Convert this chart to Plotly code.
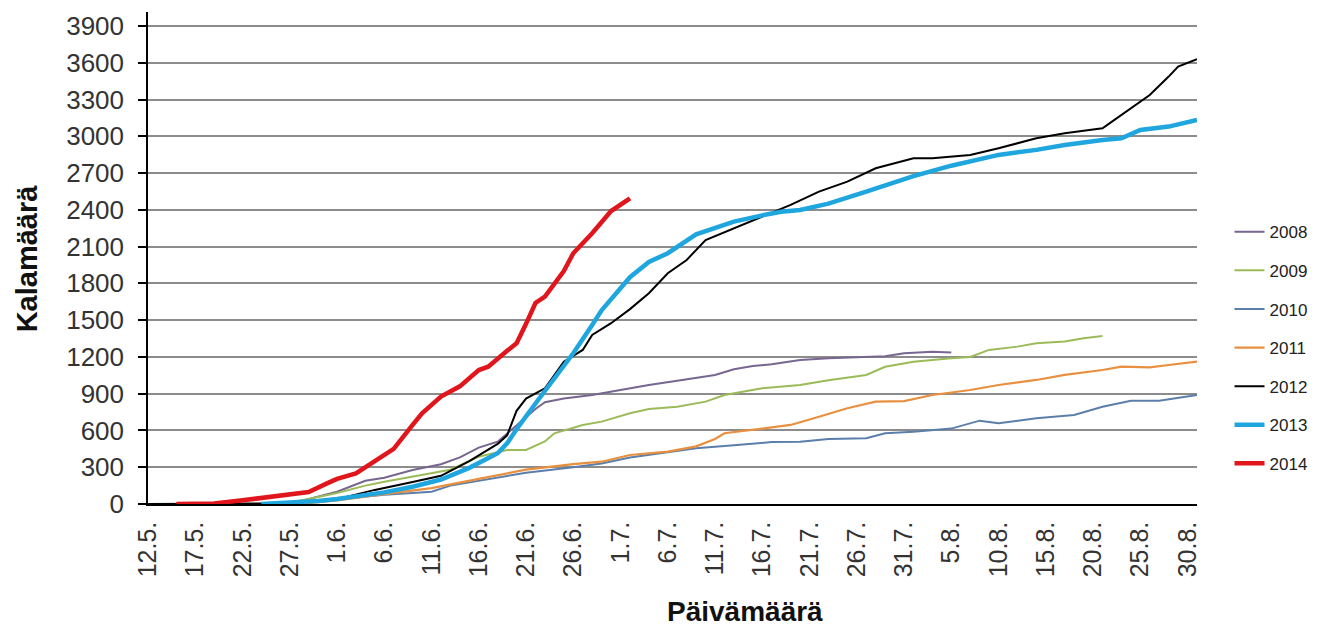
import plotly.graph_objects as go

# x = days since 12.5. (day 0)
tick_days = list(range(0, 111, 5))
tick_text = ["12.5.", "17.5.", "22.5.", "27.5.", "1.6.", "6.6.", "11.6.", "16.6.", "21.6.", "26.6.",
             "1.7.", "6.7.", "11.7.", "16.7.", "21.7.", "26.7.", "31.7.", "5.8.", "10.8.", "15.8.",
             "20.8.", "25.8.", "30.8."]
minor_tick_days = list(range(0, 112, 4))
y_ticks = list(range(0, 3901, 300))

d2008 = [15, 17, 20, 23, 25, 28, 31, 33, 35, 37, 39, 41, 42, 44, 47, 50, 53, 56, 60, 62, 64, 66, 69, 72, 75, 78, 80, 83, 85]
v2008 = [0, 40, 100, 190, 215, 277, 325, 380, 460, 508, 640, 775, 830, 860, 889, 930, 971, 1005, 1053, 1100, 1125, 1140, 1175, 1189, 1195, 1205, 1230, 1243, 1235]

d2009 = [14, 17, 20, 23, 25, 28, 32, 35, 38, 40, 42, 43, 46, 48, 51, 53, 56, 59, 61, 65, 69, 72, 76, 78, 81, 85, 87, 89, 92, 94, 97, 99, 101]
v2009 = [0, 40, 90, 150, 182, 223, 280, 386, 441, 441, 510, 577, 645, 672, 740, 775, 794, 835, 889, 944, 971, 1010, 1053, 1120, 1161, 1190, 1200, 1257, 1284, 1311, 1325, 1352, 1371]

d2010 = [15, 20, 25, 28, 30, 32, 35, 37, 40, 45, 48, 51, 55, 58, 62, 66, 69, 72, 76, 78, 81, 83, 85, 88, 90, 94, 98, 101, 104, 107, 111]
v2010 = [0, 40, 75, 90, 100, 150, 190, 215, 255, 300, 330, 380, 425, 454, 480, 505, 508, 530, 536, 577, 590, 604, 615, 680, 658, 699, 726, 794, 843, 843, 889]

d2011 = [16, 20, 25, 30, 35, 40, 45, 48, 51, 55, 58, 60, 61, 65, 68, 71, 74, 77, 80, 83, 87, 90, 94, 97, 101, 103, 106, 108, 111]
v2011 = [0, 30, 80, 130, 205, 280, 325, 345, 400, 427, 470, 530, 577, 618, 645, 712, 781, 835, 840, 889, 930, 971, 1012, 1053, 1093, 1120, 1115, 1134, 1161]

d2012 = [0, 2, 15, 20, 24, 28, 31, 34, 36, 37, 38, 39, 40, 42, 44, 46, 47, 49, 51, 53, 55, 57, 59, 62, 65, 68, 71, 74, 77, 81, 83, 85, 87, 90, 94, 97, 101, 102, 104, 106, 108, 109, 111]
v2012 = [0, 0, 5, 40, 115, 180, 230, 350, 440, 490, 560, 760, 860, 944, 1161, 1257, 1379, 1475, 1590, 1720, 1883, 1991, 2154, 2250, 2344, 2440, 2549, 2630, 2739, 2821, 2821, 2835, 2848, 2902, 2984, 3025, 3066, 3120, 3229, 3337, 3487, 3569, 3629]

d2013 = [12, 15, 18, 20, 24, 25, 28, 31, 34, 37, 38, 39, 41, 43, 45, 47, 48, 50, 51, 53, 55, 58, 62, 65, 67, 69, 72, 76, 79, 81, 85, 87, 90, 94, 97, 101, 103, 105, 108, 111]
v2013 = [0, 10, 25, 40, 80, 95, 141, 200, 295, 414, 495, 610, 820, 1030, 1230, 1460, 1580, 1760, 1850, 1975, 2046, 2200, 2304, 2355, 2385, 2399, 2450, 2549, 2620, 2675, 2760, 2793, 2848, 2889, 2929, 2970, 2984, 3052, 3079, 3133]

d2014 = [3, 7, 10, 13, 15, 17, 19, 20, 22, 24, 26, 28, 29, 31, 33, 35, 36, 38, 39, 40, 41, 42, 43, 44, 45, 47, 49, 51]
v2014 = [0, 5, 30, 60, 85, 98, 170, 205, 250, 350, 450, 645, 740, 876, 960, 1093, 1120, 1250, 1311, 1470, 1640, 1692, 1800, 1900, 2046, 2209, 2390, 2494]

series = [
    ("2008", d2008, v2008, "#77668F", 2),
    ("2009", d2009, v2009, "#9BBB59", 2),
    ("2010", d2010, v2010, "#5B7FAA", 2),
    ("2011", d2011, v2011, "#E8903F", 2.2),
    ("2012", d2012, v2012, "#000000", 2),
    ("2013", d2013, v2013, "#1FA6DE", 4.5),
    ("2014", d2014, v2014, "#E0161C", 4.5),
]

FONT = "Liberation Sans, Arial, sans-serif"

fig = go.Figure()
for name, d, v, color, w in series:
    fig.add_trace(go.Scatter(x=d, y=v, mode="lines", name=name, legendgroup=name,
                             line=dict(color=color, width=w)))

fig.update_layout(
    width=1325, height=619,
    margin=dict(l=140, r=136, t=4, b=123),
    plot_bgcolor="white", paper_bgcolor="white",
    font=dict(family=FONT, color="#333333"),
    showlegend=True,
    legend=dict(x=1.031, xanchor="left", y=0.589, yanchor="top",
                font=dict(size=17, color="#222222", family=FONT),
                tracegroupgap=13.5, bgcolor="rgba(0,0,0,0)"),
    xaxis=dict(range=[0, 111], tickmode="array", tickvals=tick_days, ticktext=tick_text,
               tickangle=-90, ticks="", showgrid=False, zeroline=False, automargin=False,
               showline=True, linecolor="black", linewidth=1.5, ticklabelstandoff=6,
               tickfont=dict(size=25, color="#333333", family=FONT)),
    xaxis2=dict(range=[0, 111], overlaying="x", anchor="y", side="bottom", automargin=False,
                tickmode="array", tickvals=minor_tick_days, showticklabels=False,
                ticks="outside", ticklen=7, tickwidth=1.5, tickcolor="black",
                showgrid=False, zeroline=False, showline=False),
    yaxis=dict(range=[0, 4014], tickmode="array", tickvals=y_ticks, automargin=False,
               ticks="outside", ticklen=8, tickwidth=1.5, tickcolor="black",
               showgrid=True, gridcolor="#8c8c8c", gridwidth=1.5, ticklabelstandoff=9,
               zeroline=False, showline=True, linecolor="black", linewidth=1.5,
               tickfont=dict(size=26, color="#333333", family=FONT)),
    annotations=[
        dict(text="<b>Päivämäärä</b>", xref="paper", yref="paper", x=0.569, y=-0.2175,
             xanchor="center", yanchor="middle", showarrow=False,
             font=dict(size=28, color="#111111", family=FONT)),
        dict(text="<b>Kalamäärä</b>", xref="paper", yref="paper", x=-0.115, y=0.5,
             xanchor="center", yanchor="middle", showarrow=False, textangle=-90,
             font=dict(size=29, color="#111111", family=FONT)),
    ],
)

fig.write_html("out.html")
